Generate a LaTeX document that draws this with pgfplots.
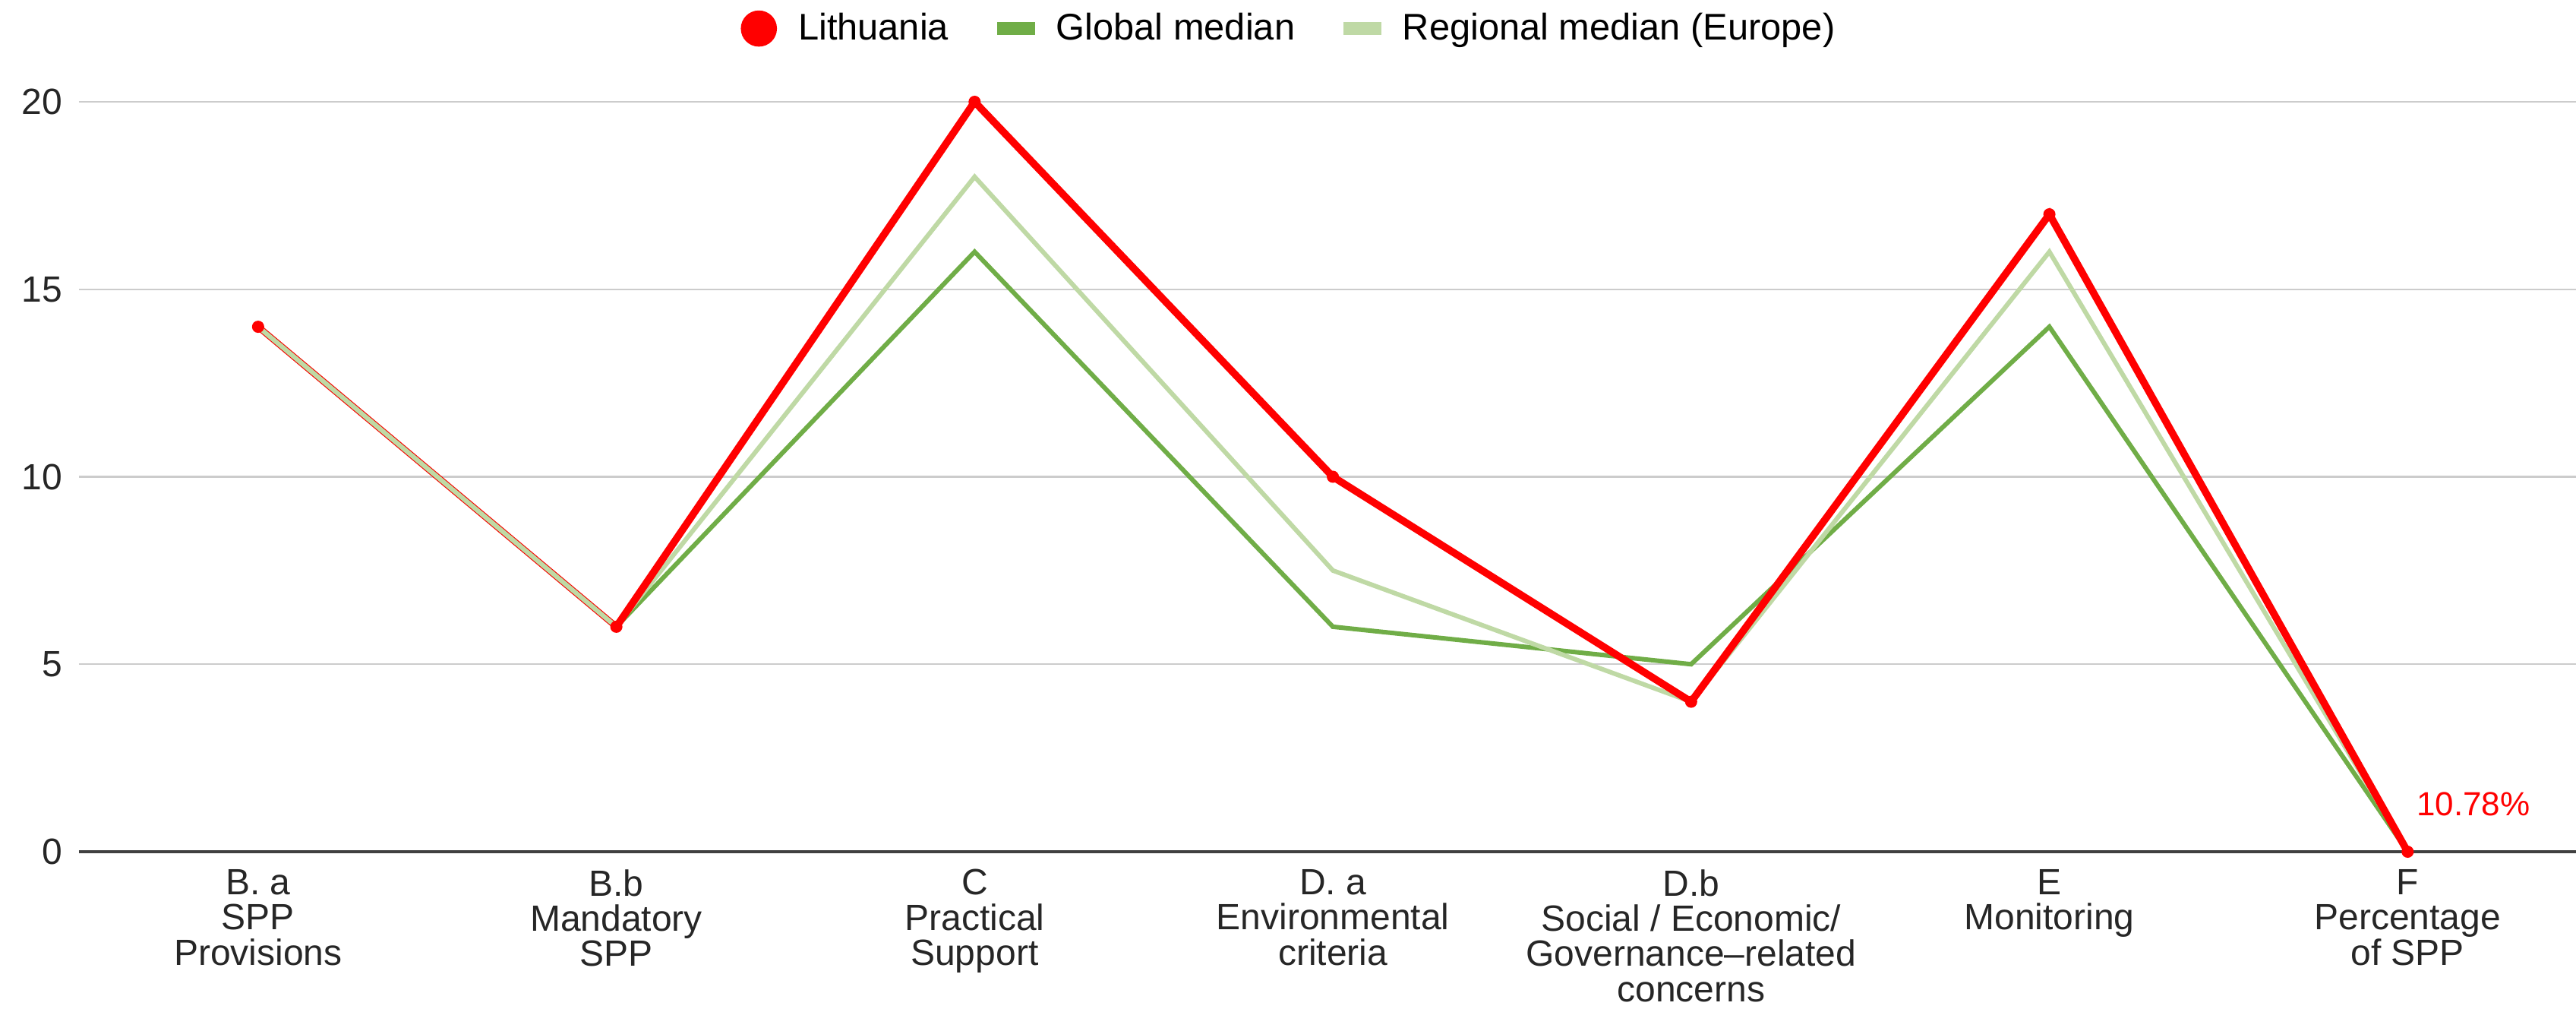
\documentclass[border=0pt]{standalone}
\usepackage{pgfplots}
\usepackage{pgfplotstable}
\pgfplotsset{compat=1.18}
\usepackage{fontspec}
\setmainfont{Liberation Sans}
\definecolor{lith}{HTML}{FF0000}
\definecolor{gmed}{HTML}{70AD47}
\definecolor{rmed}{HTML}{BFD9A5}

\pgfplotstableread{
x lit glob reg
0 14 14 14
1 6 6 6
2 20 16 18
3 10 6 7.5
4 4 5 4
5 17 14 16
6 0 0 0
}\data

\begin{document}
\begin{tikzpicture}
\begin{axis}[
  scale only axis, width=822bp, height=246.75bp,
  xmin=-0.5, xmax=6.47, ymin=0, ymax=20,
  clip=false,
  axis x line*=bottom, axis y line*=left,
  x axis line style={-, draw=black!75, line width=0.9bp},
  y axis line style={draw=none},
  major tick length=0pt,
  ytick={0,5,10,15,20},
  xtick={0,...,6},
  xticklabels={{B. a\\SPP\\Provisions},{B.b\\Mandatory\\SPP},{C\\Practical\\Support},{D. a\\Environmental\\criteria},{D.b\\Social / Economic/\\Governance--related\\concerns},{E\\Monitoring},{F\\Percentage\\of SPP}},
  ymajorgrids, grid style={draw=black!20, line width=0.6bp},
  tick label style={font=\fontsize{12bp}{11.6bp}\selectfont, text=black!85},
  xticklabel style={align=center, yshift=-2.3bp},
  yticklabel style={xshift=-2bp},
  /pgf/number format/assume math mode=true,
  legend columns=3,
  legend style={at={(axis description cs:0.4854,1)}, anchor=center, yshift=24.1bp, draw=none, fill=none,
    font=\fontsize{12.2bp}{14bp}\selectfont,
    /tikz/every odd column/.append style={column sep=5bp},
    /tikz/every even column/.append style={column sep=14bp}},
]
\addlegendimage{legend image code/.code={\fill[lith] (5.75bp,0) circle (5.75bp);}}
\addlegendentry{Lithuania}
\addlegendimage{legend image code/.code={\fill[gmed] (0,-1.9bp) rectangle (12bp,1.9bp);}}
\addlegendentry{Global median}
\addlegendimage{legend image code/.code={\fill[rmed] (0,-1.9bp) rectangle (12bp,1.9bp);}}
\addlegendentry{Regional median (Europe)}

\addplot[forget plot, lith, line width=2.1bp, restrict x to domain=0:1] table[x=x, y=lit] {\data};
\addplot[forget plot, gmed, line width=1.5bp] table[x=x, y=glob] {\data};
\addplot[forget plot, rmed, line width=1.5bp] table[x=x, y=reg] {\data};
\addplot[forget plot, lith, line width=2.4bp, restrict x to domain=1:6] table[x=x, y=lit] {\data};
\addplot[forget plot, only marks, mark=*, mark size=1.8bp, lith] table[x=x, y=lit] {\data};

\node[text=lith, font=\fontsize{11bp}{13bp}\selectfont, anchor=west, inner sep=0pt, xshift=2.75bp, yshift=15.75bp] at (axis cs:6,0) {10.78\%};
\end{axis}
\pgfresetboundingbox
\path[use as bounding box] ([xshift=-26bp,yshift=-51.75bp]current axis.south west) rectangle ([yshift=33.5bp]current axis.north east);
\end{tikzpicture}
\end{document}
